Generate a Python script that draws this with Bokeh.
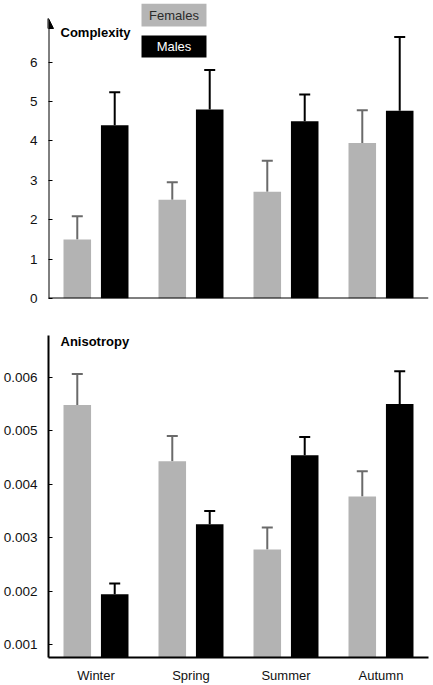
from bokeh.plotting import figure
from bokeh.layouts import column
from bokeh.models import (ColumnDataSource, FactorRange, Range1d, Whisker, TeeHead,
                          Arrow, NormalHead, BoxAnnotation, Label, FixedTicker, Span)
from bokeh.transform import dodge
from bokeh.embed import file_html
from bokeh.resources import INLINE

# ---- data ----
seasons = ["Winter", "Spring", "Summer", "Autumn"]

complexity_females = [1.50, 2.51, 2.71, 3.95]
complexity_females_err = [0.59, 0.44, 0.79, 0.83]
complexity_males = [4.40, 4.80, 4.50, 4.77]
complexity_males_err = [0.84, 1.00, 0.68, 1.87]

anisotropy_females = [0.00548, 0.00443, 0.00278, 0.00377]
anisotropy_females_err = [0.00058, 0.00047, 0.00041, 0.00047]
anisotropy_males = [0.00194, 0.00325, 0.00454, 0.00550]
anisotropy_males_err = [0.00020, 0.00025, 0.00034, 0.00061]

complexity_ticks = [0, 1, 2, 3, 4, 5, 6]
anisotropy_ticks = [0.001, 0.002, 0.003, 0.004, 0.005, 0.006]
anisotropy_tick_labels = ["0.001", "0.002", "0.003", "0.004", "0.005", "0.006"]

# ---- style ----
FONT = "Liberation Sans"
F_COLOR = "#b3b3b3"
F_ERR = "#6a6a6a"
M_COLOR = "#000000"
OFF = 0.197
BAR_W = 0.29


def make_panel(fv, fe, mv, me, y0, y1, height, b_top, b_bottom, ticks, tick_labels,
               show_x_axis, axis_line):
    src = ColumnDataSource(dict(
        season=seasons, f=fv, fu=[v + e for v, e in zip(fv, fe)],
        m=mv, mu=[v + e for v, e in zip(mv, me)]))
    p = figure(x_range=FactorRange(*seasons, range_padding=0),
               y_range=Range1d(y0, y1), width=430, height=height,
               output_backend="svg", toolbar_location=None,
               min_border_left=48, min_border_right=2,
               min_border_top=b_top, min_border_bottom=b_bottom)
    p.outline_line_color = None
    p.grid.visible = False
    p.background_fill_color = "white"

    xf = dodge("season", -OFF, range=p.x_range)
    xm = dodge("season", OFF, range=p.x_range)
    p.vbar(x=xf, top="f", bottom=0, width=BAR_W, source=src,
           fill_color=F_COLOR, line_color=None)
    p.vbar(x=xm, top="m", bottom=0, width=BAR_W, source=src,
           fill_color=M_COLOR, line_color=None)

    p.add_layout(Whisker(source=src, base=xf, lower="f", upper="fu",
                         dimension="height", line_color=F_ERR, line_width=2,
                         lower_head=None,
                         upper_head=TeeHead(size=11, line_color=F_ERR, line_width=2)))
    p.add_layout(Whisker(source=src, base=xm, lower="m", upper="mu",
                         dimension="height", line_color=M_COLOR, line_width=2,
                         lower_head=None,
                         upper_head=TeeHead(size=11, line_color=M_COLOR, line_width=2)))

    ya = p.yaxis[0]
    ya.ticker = FixedTicker(ticks=ticks)
    if tick_labels is not None:
        ya.major_label_overrides = {t: l for t, l in zip(ticks, tick_labels)}
    ya.major_tick_in = 4
    ya.major_tick_out = 0
    ya.major_tick_line_color = "black"
    ya.major_tick_line_width = 1
    ya.minor_tick_line_color = None
    ya.major_label_standoff = 11
    ya.major_label_text_font = FONT
    ya.major_label_text_font_size = "13.5px"
    ya.major_label_text_color = "#111111"
    if axis_line:
        ya.axis_line_color = "black"
        ya.axis_line_width = 2
    else:
        ya.axis_line_color = None

    xa = p.xaxis[0]
    if show_x_axis:
        xa.axis_line_color = "black"
        xa.axis_line_width = 2
        xa.major_tick_line_color = None
        xa.minor_tick_line_color = None
        xa.major_label_standoff = 4
        xa.major_label_text_font = FONT
        xa.major_label_text_font_size = "13px"
        xa.major_label_text_color = "#111111"
    else:
        xa.visible = False
        p.add_layout(Span(location=0, dimension="width", line_color="black",
                          line_width=2))
    return p


# ---- top panel: Complexity ----
p1 = make_panel(complexity_females, complexity_females_err,
                complexity_males, complexity_males_err,
                0, 7.491, 318, 3, 20, complexity_ticks, None, False, False)

p1.add_layout(Arrow(x_start=0, y_start=0, x_end=0, y_end=7.11,
                    line_color="black", line_width=2,
                    end=NormalHead(size=10, fill_color="black", line_color="black",
                                   line_width=1)))
p1.add_layout(Label(x=0, y=6.76, x_offset=12, text="Complexity",
                    text_font=FONT, text_font_size="13px", text_font_style="bold",
                    text_baseline="middle", text_color="black"))

p1.add_layout(BoxAnnotation(left=0.979, right=1.663, top=7.491, bottom=6.907,
                            fill_color="#b5b5b5", fill_alpha=1, line_color=None))
p1.add_layout(BoxAnnotation(left=0.979, right=1.663, top=6.679, bottom=6.120,
                            fill_color="black", fill_alpha=1, line_color=None))
p1.add_layout(Label(x=1.321, y=7.19, text="Females", text_font=FONT,
                    text_font_size="13px", text_align="center",
                    text_baseline="middle", text_color="#2a2a2a"))
p1.add_layout(Label(x=1.321, y=6.40, text="Males", text_font=FONT,
                    text_font_size="13px", text_align="center",
                    text_baseline="middle", text_color="white"))

# ---- bottom panel: Anisotropy ----
p2 = make_panel(anisotropy_females, anisotropy_females_err,
                anisotropy_males, anisotropy_males_err,
                0.000758, 0.006780, 367, 17, 28, anisotropy_ticks,
                anisotropy_tick_labels, True, True)
p2.add_layout(Label(x=0, y=0.006668, x_offset=12, text="Anisotropy",
                    text_font=FONT, text_font_size="13px", text_font_style="bold",
                    text_baseline="middle", text_color="black"))

layout = column(p1, p2)
open("out.html", "w").write(file_html(layout, INLINE))
